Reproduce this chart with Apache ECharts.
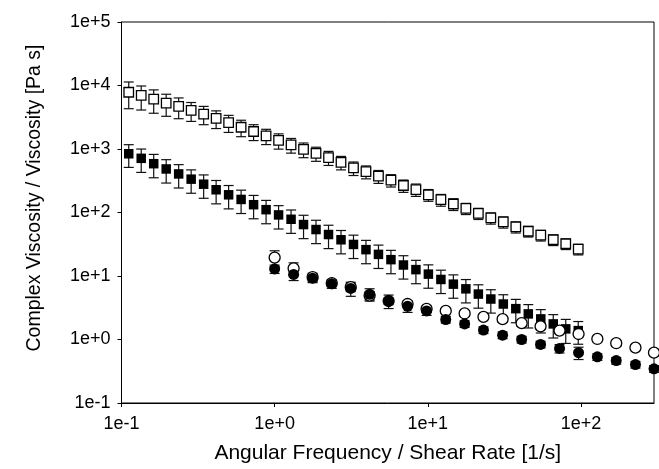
<!DOCTYPE html>
<html>
<head>
<meta charset="utf-8">
<script src="https://cdn.jsdelivr.net/npm/echarts@6.0.0/dist/echarts.min.js"></script>
<style>
  html, body { margin: 0; padding: 0; background: #fff; }
  #chart { width: 659px; height: 469px; }
</style>
</head>
<body>
<div id="chart"></div>
<script>
// frequency points of the square series
var squareX = [0.1115, 0.1345, 0.1623, 0.1958, 0.2362, 0.285, 0.3439, 0.4149, 0.5006, 0.604,
  0.7287, 0.8792, 1.061, 1.28, 1.544, 1.863, 2.248, 2.712, 3.272, 3.948,
  4.763, 5.747, 6.934, 8.366, 10.09, 12.18, 14.69, 17.73, 21.39, 25.8,
  31.13, 37.56, 45.32, 54.68, 65.97, 79.6, 96.03];
// open squares
var openSquareY = [7834, 6966, 6095, 5278, 4686, 4058, 3552, 3042, 2605, 2200,
  1885, 1608, 1363, 1163, 986, 853, 734, 617, 503, 440,
  373, 323, 266, 230, 190, 159, 136, 116, 97, 82,
  71, 59.4, 50.7, 43.9, 37.2, 32.2, 26.5];
var openSquareErr = [0.45, 0.41, 0.40, 0.38, 0.36, 0.33, 0.32, 0.31, 0.30, 0.29,
  0.28, 0.27, 0.27, 0.26, 0.26, 0.25, 0.25, 0.24, 0.24, 0.23,
  0.23, 0.22, 0.22, 0.22, 0.21, 0.21, 0.21, 0.20, 0.20, 0.20,
  0.20, 0.20, 0.19, 0.19, 0.19, 0.19, 0.19];
// filled squares
var filledSquareY = [841, 713, 587, 485, 405, 335, 279, 228, 190, 160.6,
  132.7, 110.8, 91.6, 78.2, 64.6, 53.9, 45.0, 37.2, 31.4, 26.0,
  21.9, 18.1, 14.9, 12.6, 10.7, 8.82, 7.44, 6.28, 5.19, 4.34,
  3.62, 3.06, 2.53, 2.11, 1.76, 1.47, 1.38];
var filledSquareErr = [0.39, 0.40, 0.40, 0.40, 0.40, 0.40, 0.40, 0.40, 0.40, 0.40,
  0.40, 0.40, 0.40, 0.40, 0.40, 0.40, 0.40, 0.40, 0.40, 0.40,
  0.40, 0.40, 0.40, 0.40, 0.40, 0.40, 0.40, 0.40, 0.40, 0.40,
  0.40, 0.40, 0.40, 0.40, 0.40, 0.41, 0.39];

// shear rate points of the circle series
var circleX = [1.0, 1.33, 1.77, 2.36, 3.14, 4.17, 5.55, 7.38, 9.82, 13.1,
  17.4, 23.1, 30.8, 41.0, 54.5, 72.5, 96.5, 128, 170, 227, 300];
var openCircleY = [19.5, 13.2, 9.58, 7.72, 6.68, 4.92, 4.04, 3.62, 3.03, 2.82,
  2.57, 2.27, 2.09, 1.81, 1.61, 1.38, 1.22, 1.02, 0.874, 0.743, 0.62];
var openCircleErr = [0.28, 0.22, 0.15, 0.12, 0.15, 0.15, 0.12, 0.12, 0.12, 0.10,
  0.10, 0.10, 0.10, 0.10, 0.10, 0.10, 0.10, 0.10, 0.10, 0.10, 0.10];
var filledCircleY = [12.9, 10.6, 9.24, 7.52, 6.38, 5.16, 4.04, 3.34, 2.82, 2.06,
  1.76, 1.41, 1.17, 1.00, 0.837, 0.722, 0.62, 0.533, 0.465, 0.403, 0.346];
var filledCircleErr = [0.15, 0.20, 0.15, 0.15, 0.25, 0.22, 0.24, 0.20, 0.15, 0.12,
  0.12, 0.12, 0.12, 0.12, 0.12, 0.15, 0.22, 0.12, 0.12, 0.12, 0.12];

var xTicks = [0.1, 1, 10, 100];
var yTicks = [0.1, 1, 10, 100, 1000, 10000, 100000];

function pairs(xs, ys) {
  return xs.map(function (x, i) { return [x, ys[i]]; });
}
function bars(xs, ys, err) {
  return xs.map(function (x, i) {
    var sd = ys[i] * err[i];
    return [x, ys[i] - sd, ys[i] + sd];
  });
}
function expLabel(v) {
  var e = Math.round(Math.log10(v));
  return '1e' + (e >= 0 ? '+' : '') + e;
}

function renderErr(params, api) {
  var x = api.value(0);
  var top = api.coord([x, api.value(2)]);
  var bot = api.coord([x, api.value(1)]);
  var w = 5;
  var st = { stroke: '#111', lineWidth: 1.2 };
  return {
    type: 'group',
    children: [
      { type: 'line', shape: { x1: top[0], y1: top[1], x2: bot[0], y2: bot[1] }, style: st },
      { type: 'line', shape: { x1: top[0] - w, y1: top[1], x2: top[0] + w, y2: top[1] }, style: st },
      { type: 'line', shape: { x1: bot[0] - w, y1: bot[1], x2: bot[0] + w, y2: bot[1] }, style: st }
    ]
  };
}

function errSeries(data) {
  return {
    type: 'custom',
    renderItem: renderErr,
    encode: { x: 0, y: [1, 2] },
    data: data,
    z: 1,
    silent: true
  };
}

var chart = echarts.init(document.getElementById('chart'), null, { renderer: 'canvas' });

var axisText = { color: '#000', fontFamily: 'Liberation Sans', fontSize: 18 };

var option = {
  animation: false,
  backgroundColor: '#fff',
  grid: {
    left: 121.5, right: 5, top: 22, bottom: 63.5,
    show: true, borderColor: '#000', borderWidth: 1
  },
  // y title sits a little above the axis middle in the original
  graphic: [{
    type: 'text',
    x: 35, y: 198,
    rotation: Math.PI / 2,
    style: {
      text: 'Complex Viscosity / Viscosity [Pa s]',
      fill: '#000',
      font: '19.5px "Liberation Sans"',
      align: 'center',
      verticalAlign: 'middle'
    }
  }],
  xAxis: {
    type: 'log',
    logBase: 10,
    min: 0.1,
    max: 300,
    name: 'Angular Frequency / Shear Rate [1/s]',
    nameLocation: 'middle',
    nameGap: 40,
    nameTextStyle: { color: '#000', fontFamily: 'Liberation Sans', fontSize: 21 },
    axisLine: { show: true, lineStyle: { color: '#000', width: 1 } },
    axisTick: { show: true, inside: false, length: 4, lineStyle: { color: '#000' }, customValues: xTicks },
    axisLabel: Object.assign({ margin: 12, formatter: expLabel, customValues: xTicks }, axisText),
    minorTick: { show: false },
    splitLine: { show: false }
  },
  yAxis: {
    type: 'log',
    logBase: 10,
    min: 0.1,
    max: 100000,
    axisLine: { show: true, lineStyle: { color: '#000', width: 1 } },
    axisTick: { show: true, inside: false, length: 4, lineStyle: { color: '#000' }, customValues: yTicks },
    axisLabel: Object.assign({ margin: 11, formatter: expLabel, customValues: yTicks }, axisText),
    splitLine: { show: false }
  },
  series: [
    errSeries(bars(squareX, openSquareY, openSquareErr)),
    errSeries(bars(squareX, filledSquareY, filledSquareErr)),
    errSeries(bars(circleX, openCircleY, openCircleErr)),
    errSeries(bars(circleX, filledCircleY, filledCircleErr)),
    {
      type: 'scatter', symbol: 'rect', symbolSize: 9.5, z: 2,
      itemStyle: { color: '#fff', borderColor: '#000', borderWidth: 1.3, opacity: 1 },
      data: pairs(squareX, openSquareY)
    },
    {
      type: 'scatter', symbol: 'rect', symbolSize: 9.5, z: 2,
      itemStyle: { color: '#000', opacity: 1 },
      data: pairs(squareX, filledSquareY)
    },
    {
      type: 'scatter', symbol: 'circle', symbolSize: 11, z: 2,
      itemStyle: { color: '#fff', borderColor: '#000', borderWidth: 1.3, opacity: 1 },
      data: pairs(circleX, openCircleY)
    },
    {
      type: 'scatter', symbol: 'circle', symbolSize: 11, z: 2,
      itemStyle: { color: '#000', opacity: 1 },
      data: pairs(circleX, filledCircleY)
    }
  ]
};

chart.setOption(option);
</script>
</body>
</html>
